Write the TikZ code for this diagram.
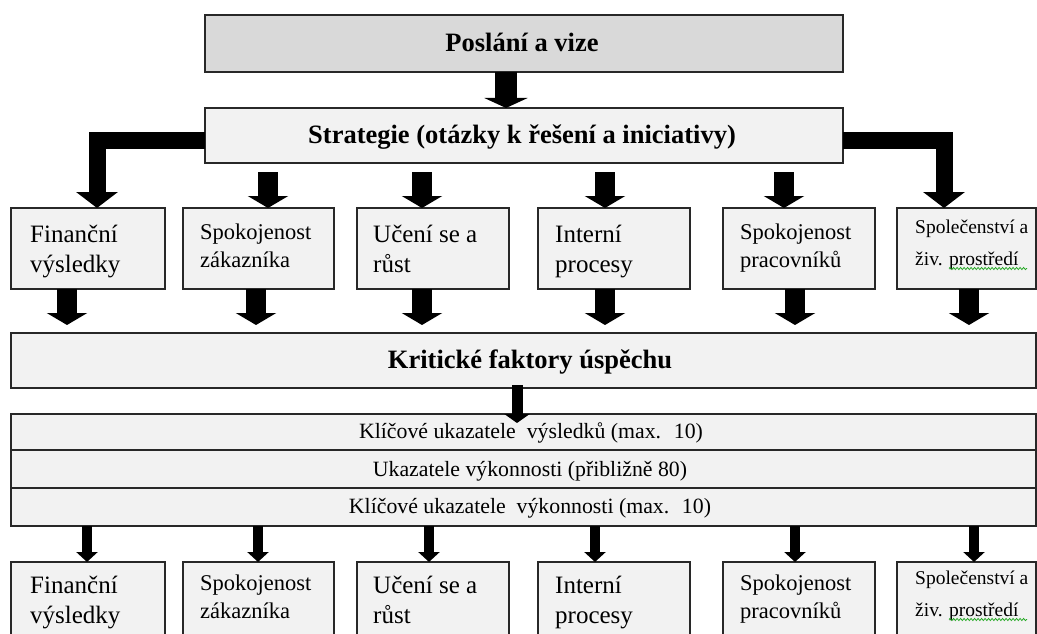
\documentclass[tikz,border=0pt]{standalone}
\usepackage{fontspec}
\setmainfont{Liberation Serif}
\usetikzlibrary{arrows.meta,decorations.pathmorphing,calc}
\definecolor{topfill}{RGB}{217,217,217}
\definecolor{boxfill}{RGB}{242,242,242}
\definecolor{edge}{RGB}{40,40,40}
\definecolor{spell}{RGB}{40,170,40}
\begin{document}
\begin{tikzpicture}[x=1pt,y=-1pt,
  box/.style={draw=edge, line width=1.3pt, fill=boxfill, inner sep=0pt, outer sep=0pt, anchor=north west},
  small/.style={box, minimum width=#1, minimum height=81pt},
  band/.style={box, minimum width=1025pt, minimum height=#1},
  txt/.style={anchor=base west, inner sep=0pt},
  tA/.style={txt, font=\fontsize{25}{30}\selectfont},
  tB/.style={txt, font=\fontsize{22.5}{27}\selectfont},
  tC/.style={txt, font=\fontsize{19.5}{24}\selectfont},
  tT/.style={anchor=base, inner sep=0pt, font=\bfseries\fontsize{26.5}{32}\selectfont},
  tK/.style={anchor=base, inner sep=0pt, font=\fontsize{21.8}{26}\selectfont},
  arrTop/.style={line width=22pt, -{Triangle[width=43pt,length=10pt]}},
  arrElb/.style={line width=17pt, line join=miter, -{Triangle[width=41pt,length=16pt]}},
  arrMid/.style={line width=20pt, -{Triangle[width=40pt,length=12pt]}},
  arrSm/.style={line width=11pt, -{Triangle[width=25pt,length=9pt]}},
  arrLow/.style={line width=9.5pt, -{Triangle[width=21pt,length=10pt]}},
  squiggle/.style={draw=spell, line width=0.8pt, decorate, decoration={snake, amplitude=1.1pt, segment length=3.5pt}}
]
\useasboundingbox (0,0) rectangle (1037,634);
\clip (0,0) rectangle (1037,634);

% --- boxes
\node[box, fill=topfill, minimum width=638pt, minimum height=57pt] (mission) at (205,15) {};
\node[box, minimum width=638pt, minimum height=55pt] (strat) at (205,108) {};

\node[small=154pt] (b1) at (11,208) {};
\node[small=151pt] (b2) at (183,208) {};
\node[small=152pt] (b3) at (357,208) {};
\node[small=152pt] (b4) at (538,208) {};
\node[small=152pt] (b5) at (723,208) {};
\node[small=139pt] (b6) at (897,208) {};

\node[band=55pt] (kfu) at (11,333) {};
\node[band=36pt] (k1) at (11,414) {};
\node[band=38pt] (k2) at (11,450) {};
\node[band=38pt] (k3) at (11,488) {};

\node[small=154pt] (c1) at (11,562) {};
\node[small=151pt] (c2) at (183,562) {};
\node[small=152pt] (c3) at (357,562) {};
\node[small=152pt] (c4) at (538,562) {};
\node[small=152pt] (c5) at (723,562) {};
\node[small=139pt] (c6) at (897,562) {};

% --- texts
\node[tT] (missiont) at (522,52) {Poslání a vize};
\node[tT] (stratt) at (522,143) {Strategie (otázky k řešení a iniciativy)};
\node[tT] (kfut) at (530,368) {Kritické faktory úspěchu};
\node[tK] (k1t) at (531,438) {Klíčové ukazatele~ výsledků (max.~ 10)};
\node[tK] (k2t) at (530,476) {Ukazatele výkonnosti (přibližně 80)};
\node[tK] (k3t) at (530,513) {Klíčové ukazatele~ výkonnosti (max.~ 10)};

\node[tA] (b1a) at (30,242) {Finanční};
\node[tA] (b1b) at (30,272) {výsledky};
\node[tB] (b2a) at (200,239.5) {Spokojenost};
\node[tB] (b2b) at (200,267) {zákazníka};
\node[tA] (b3a) at (373,242) {Učení se a};
\node[tA] (b3b) at (373,272) {růst};
\node[tA] (b4a) at (555,242) {Interní};
\node[tA] (b4b) at (555,272) {procesy};
\node[tB] (b5a) at (740,239.5) {Spokojenost};
\node[tB] (b5b) at (740,267) {pracovníků};
\node[tC] (b6a) at (915,233.5) {Společenství a};
\node[tC] (b6b) at (915,265) {živ. prostředí};

\node[tA] (c1a) at (30,593) {Finanční};
\node[tA] (c1b) at (30,623) {výsledky};
\node[tB] (c2a) at (200,590.5) {Spokojenost};
\node[tB] (c2b) at (200,618) {zákazníka};
\node[tA] (c3a) at (373,593) {Učení se a};
\node[tA] (c3b) at (373,623) {růst};
\node[tA] (c4a) at (555,593) {Interní};
\node[tA] (c4b) at (555,623) {procesy};
\node[tB] (c5a) at (740,590.5) {Spokojenost};
\node[tB] (c5b) at (740,618) {pracovníků};
\node[tC] (c6a) at (915,584.5) {Společenství a};
\node[tC] (c6b) at (915,616) {živ. prostředí};

\path[squiggle] (949,268.5) -- (1027,268.5);
\path[squiggle] (949,619.5) -- (1027,619.5);

% --- connectors
\draw[arrTop] (mission.south -| 506,0) -- (strat.north -| 506,0);
\draw[arrElb] (strat.west |- 0,140) -| (b1.north -| 97,0);
\draw[arrElb] (strat.east |- 0,140) -| (b6.north -| 944,0);
\draw[arrMid, shorten <=9pt] (strat.south -| 268,0) -- (b2.north -| 268,0);
\draw[arrMid, shorten <=9pt] (strat.south -| 422,0) -- (b3.north -| 422,0);
\draw[arrMid, shorten <=9pt] (strat.south -| 605,0) -- (b4.north -| 605,0);
\draw[arrMid, shorten <=9pt] (strat.south -| 784,0) -- (b5.north -| 784,0);

\draw[arrMid, shorten >=8pt] (b1.south -| 67,0) -- (kfu.north -| 67,0);
\draw[arrMid, shorten >=8pt] (b2.south -| 256,0) -- (kfu.north -| 256,0);
\draw[arrMid, shorten >=8pt] (b3.south -| 422,0) -- (kfu.north -| 422,0);
\draw[arrMid, shorten >=8pt] (b4.south -| 605,0) -- (kfu.north -| 605,0);
\draw[arrMid, shorten >=8pt] (b5.south -| 795,0) -- (kfu.north -| 795,0);
\draw[arrMid, shorten >=8pt] (b6.south -| 969,0) -- (kfu.north -| 969,0);

\draw[arrSm] ($(kfu.south -| 517,0)+(0,-3)$) -- ($(k1.north -| 517,0)+(0,9)$);

\draw[arrLow] (k3.south -| 87,0) -- (c1.north -| 87,0);
\draw[arrLow] (k3.south -| 258,0) -- (c2.north -| 258,0);
\draw[arrLow] (k3.south -| 429,0) -- (c3.north -| 429,0);
\draw[arrLow] (k3.south -| 595,0) -- (c4.north -| 595,0);
\draw[arrLow] (k3.south -| 795,0) -- (c5.north -| 795,0);
\draw[arrLow] (k3.south -| 974,0) -- (c6.north -| 974,0);
\end{tikzpicture}
\end{document}
